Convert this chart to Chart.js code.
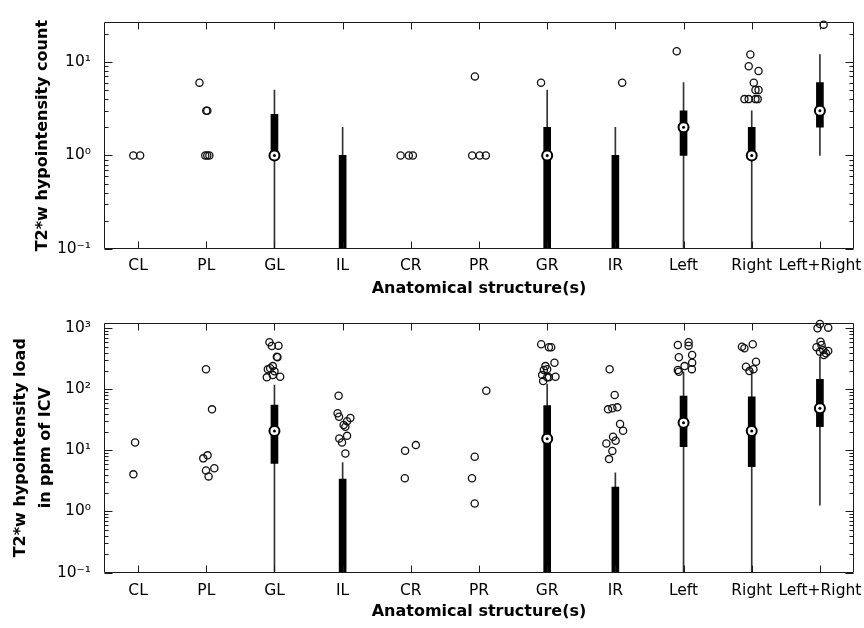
<!DOCTYPE html>
<html>
<head>
<meta charset="utf-8">
<script src="https://cdn.jsdelivr.net/npm/chart.js@4.4.1/dist/chart.umd.min.js"></script>
<style>
  html, body { margin: 0; padding: 0; background: #fff; }
  body { width: 864px; height: 628px; position: relative; overflow: hidden; }
  canvas { position: absolute; left: 0; }
  #countChart { top: 0; }
  #loadChart { top: 300px; }
</style>
</head>
<body>
<canvas id="countChart" width="864" height="305"></canvas>
<canvas id="loadChart" width="864" height="328"></canvas>
<script>
const categories = ['CL', 'PL', 'GL', 'IL', 'CR', 'PR', 'GR', 'IR', 'Left', 'Right', 'Left+Right'];

// top panel: hypointensity count (0 = below the log axis)
const countWhiskerLow  = [0, 0, 0,    0, 0, 0, 0, 0, 0, 0, 1];
const countQ1          = [0, 0, 1,    0, 0, 0, 0, 0, 1, 1, 2];
const countMedian      = [0, 0, 1,    0, 0, 0, 1, 0, 2, 1, 3];
const countQ3          = [0, 0, 2.75, 1, 0, 0, 2, 1, 3, 2, 6];
const countWhiskerHigh = [0, 0, 5,    2, 0, 0, 5, 2, 6, 3, 12];
// outliers: x is the category index plus a small jitter
const countOutlierX = [-0.07, 0.03,
  0.9, 1.0, 1.015, 0.985, 1.015, 1.045,
  3.85, 3.97, 4.03,
  4.94, 4.9, 5.01, 5.1,
  5.91,
  7.1,
  7.9,
  8.98, 8.956, 9.1, 9.03, 9.055, 9.1, 8.893, 8.956, 9.055, 9.088,
  10.054];
const countOutlierY = [1, 1,
  6, 3, 3, 1, 1, 1,
  1, 1, 1,
  7, 1, 1, 1,
  6,
  6,
  13,
  12, 9, 8, 6, 5, 5, 4, 4, 4, 4,
  25];

// bottom panel: hypointensity load in ppm of ICV
const loadWhiskerLow  = [0, 0, 0,   0,   0, 0, 0,   0,   0,    0,    1.27];
const loadQ1          = [0, 0, 6.1, 0,   0, 0, 0,   0,   11.5, 5.4,  24.4];
const loadMedian      = [0, 0, 20.7, 0,  0, 0, 15.5, 0,  28.3, 20.7, 48.9];
const loadQ3          = [0, 0, 55,  3.4, 0, 0, 54,  2.5, 77.6, 75.7, 146];
const loadWhiskerHigh = [0, 0, 117, 6.3, 0, 0, 122, 4.3, 194,  207,  342];
const loadOutlierX = [-0.044, -0.069,
  0.996, 1.084, 0.956, 1.019, 0.996, 1.118, 1.034,
  1.926, 1.962, 2.059, 2.035, 2.044, 1.903, 1.937, 1.976, 1.888, 1.976, 2.084, 2.0,
  2.941, 2.926, 2.947, 3.113, 3.065, 3.015, 3.04, 3.065, 2.951, 2.991, 3.04,
  3.916, 4.074, 3.912,
  5.107, 4.937, 4.897, 4.937,
  5.912, 6.025, 6.059, 6.107, 5.975, 6.0, 5.951, 5.926, 6.0, 6.025, 6.122, 5.941,
  6.916, 6.99, 6.893, 6.956, 7.029, 7.069, 7.113, 6.966, 7.004, 6.868, 6.956, 6.907,
  7.916, 8.074, 8.074, 7.931, 8.126, 8.126, 8.015, 8.122, 7.916, 7.931,
  8.857, 8.893, 9.015, 9.063, 8.916, 9.025, 8.966,
  10.0, 9.965, 10.122, 10.009, 10.024, 9.95, 10.049, 10.0, 10.122, 10.059, 10.088];
const loadOutlierY = [13.5, 4.05,
  213, 47, 7.4, 8.3, 4.7, 5.1, 3.75,
  589, 513, 519, 342, 335, 213, 221, 240, 157, 171, 161, 197,
  78.5, 40.5, 35.6, 34, 30, 26, 24.4, 17.3, 15.7, 13.5, 8.9,
  9.85, 12.2, 3.5,
  95, 7.85, 3.5, 1.35,
  547, 489, 489, 273, 240, 213, 207, 171, 157, 157, 161, 137,
  213, 80.7, 47, 48.9, 50.7, 27, 21, 16.7, 14.4, 13, 9.8, 7.2,
  532, 589, 519, 335, 365, 273, 240, 214, 207, 194,
  500, 470, 547, 283, 234, 214, 199,
  1175, 1000, 1023, 603, 532, 489, 441, 413, 425, 365, 389];

const sup = {'-': '\u207B', '0': '\u2070', '1': '\u00B9', '2': '\u00B2', '3': '\u00B3'};
function decadeLabel(v) {
  const e = Math.round(Math.log10(v));
  return '10' + String(e).split('').map(c => sup[c]).join('');
}

const tickFont = { family: 'DejaVu Sans', size: 15.5 };
const titleFont = { family: 'DejaVu Sans', size: 16, weight: 'bold' };

// frame with inward ticks, like the original figure
const boxAxes = {
  id: 'boxAxes',
  afterDatasetsDraw(chart) {
    const { ctx, chartArea: a, scales: { x, y } } = chart;
    const L = Math.round(a.left) + 0.5, R = Math.round(a.right) - 0.5;
    const T = Math.round(a.top) + 0.5, B = Math.round(a.bottom) - 0.5;
    ctx.save();
    ctx.strokeStyle = '#1a1a1a';
    ctx.lineWidth = 1;
    ctx.beginPath();
    ctx.rect(L, T, R - L, B - T);
    x.ticks.forEach(t => {
      const px = Math.round(x.getPixelForValue(t.value)) + 0.5;
      ctx.moveTo(px, B); ctx.lineTo(px, B - 7);
      ctx.moveTo(px, T); ctx.lineTo(px, T + 7);
    });
    const e0 = Math.floor(Math.log10(y.min)), e1 = Math.ceil(Math.log10(y.max));
    for (let e = e0; e <= e1; e++) {
      for (let m = 1; m <= 9; m++) {
        const v = m * Math.pow(10, e);
        if (v < y.min * 0.999 || v > y.max) continue;
        const py = Math.round(y.getPixelForValue(v)) + 0.5;
        const len = m === 1 ? 8 : 4;
        ctx.moveTo(L, py); ctx.lineTo(L + len, py);
        ctx.moveTo(R, py); ctx.lineTo(R - len, py);
      }
    }
    ctx.stroke();
    ctx.restore();
  }
};

function boxDatasets(low, q1, med, q3, high, outX, outY, floor) {
  const lo = v => (v > 0 ? v : floor);
  const idx = categories.map((c, i) => i);
  return [
    {
      label: 'whisker', order: 5, grouped: false, barThickness: 1,
      backgroundColor: '#333', borderWidth: 0,
      data: idx.filter(i => high[i] > 0).map(i => ({ x: i, y: [lo(low[i]), high[i]] }))
    },
    {
      label: 'box', order: 4, grouped: false, barThickness: 7,
      backgroundColor: '#000', borderWidth: 0,
      data: idx.filter(i => q3[i] > 0).map(i => ({ x: i, y: [lo(q1[i]), q3[i]] }))
    },
    {
      type: 'scatter', label: 'outliers', order: 3, clip: false,
      pointRadius: 3.6, pointBorderWidth: 1.3, pointBorderColor: '#111',
      pointBackgroundColor: 'rgba(0,0,0,0)',
      data: outX.map((x, k) => ({ x: x, y: outY[k] }))
    },
    {
      type: 'scatter', label: 'median', order: 2, clip: false,
      pointRadius: 5, pointBorderWidth: 2, pointBorderColor: '#000',
      pointBackgroundColor: '#fff',
      data: idx.filter(i => med[i] > 0).map(i => ({ x: i, y: med[i] }))
    },
    {
      type: 'scatter', label: 'median dot', order: 1, clip: false,
      pointRadius: 1.5, pointBorderWidth: 0, pointBackgroundColor: '#000',
      data: idx.filter(i => med[i] > 0).map(i => ({ x: i, y: med[i] }))
    }
  ];
}

function makeChart(id, datasets, o) {
  return new Chart(document.getElementById(id), {
    type: 'bar',
    data: { datasets: datasets },
    options: {
      responsive: false,
      animation: false,
      devicePixelRatio: 1,
      events: [],
      layout: { padding: { top: o.padTop, right: 10, bottom: 0, left: 0 } },
      plugins: { legend: { display: false }, tooltip: { enabled: false } },
      scales: {
        x: {
          type: 'linear', min: -0.5, max: 10.5, offset: false,
          grid: { display: false, drawTicks: false },
          border: { display: false },
          afterBuildTicks: s => { s.ticks = categories.map((c, i) => ({ value: i })); },
          afterFit: s => {
            s.height = o.xHeight;
            s.paddingLeft = 0;
            s.paddingRight = 0;
          },
          ticks: {
            autoSkip: false, maxRotation: 0, padding: o.xPad,
            color: '#000', font: tickFont,
            callback: v => categories[v]
          },
          title: {
            display: true, text: 'Anatomical structure(s)', color: '#000',
            font: titleFont, padding: { top: 0, bottom: 6.4 }
          }
        },
        y: {
          type: 'logarithmic', min: 0.1, max: o.yMax,
          grid: { display: false, drawTicks: false },
          border: { display: false },
          afterBuildTicks: s => { s.ticks = o.decades.map(v => ({ value: v })); },
          afterFit: s => { s.width = 104; },
          ticks: { padding: 13, color: '#000', font: tickFont, callback: v => decadeLabel(v) },
          title: {
            display: true, text: o.yTitle, color: '#000',
            font: Object.assign({}, titleFont, { lineHeight: o.yLine }),
            padding: { top: o.yTitlePad, bottom: 0 }
          }
        }
      }
    },
    plugins: [boxAxes]
  });
}

makeChart('countChart',
  boxDatasets(countWhiskerLow, countQ1, countMedian, countQ3, countWhiskerHigh, countOutlierX, countOutlierY, 0.1),
  { padTop: 8, xHeight: 56, xPad: 7.5, yMax: 26.5, decades: [0.1, 1, 10],
    yTitle: 'T2*w hypointensity count', yLine: 1.2, yTitlePad: 33 });

makeChart('loadChart',
  boxDatasets(loadWhiskerLow, loadQ1, loadMedian, loadQ3, loadWhiskerHigh, loadOutlierX, loadOutlierY, 0.1),
  { padTop: 23, xHeight: 55.5, xPad: 8.7, yMax: 1220, decades: [0.1, 1, 10, 100, 1000],
    yTitle: ['T2*w hypointensity load', 'in ppm of ICV'], yLine: 1.5625, yTitlePad: 8.5 });
</script>
</body>
</html>
